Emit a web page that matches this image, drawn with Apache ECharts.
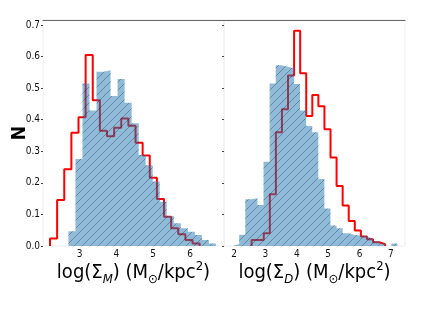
<!DOCTYPE html>
<html>
<head>
<meta charset="utf-8">
<script src="https://cdn.jsdelivr.net/npm/echarts@6/dist/echarts.min.js"></script>
<style>
  html, body { margin: 0; padding: 0; background: #fff; }
  #chart { width: 436px; height: 327px; }
</style>
</head>
<body>
<div id="chart"></div>
<script>
// histogram bins (start, bin width, heights)
var leftBlueStart = 2.70, leftBlueWidth = 0.1905;
var leftBlue = [0.047, 0.276, 0.515, 0.429, 0.552, 0.557, 0.475, 0.529, 0.454, 0.389, 0.288,
  0.256, 0.204, 0.140, 0.095, 0.072, 0.056, 0.045, 0.035, 0.019, 0.008];
var leftRedStart = 2.20, leftRedWidth = 0.1933;
var leftRed = [0.024, 0.146, 0.243, 0.359, 0.408, 0.605, 0.462, 0.365, 0.348, 0.375, 0.404,
  0.381, 0.327, 0.287, 0.216, 0.149, 0.093, 0.056, 0.037, 0.019, 0.008];
var rightBlueStart = 1.97, rightBlueWidth = 0.194;
var rightBlue = [0.006, 0.036, 0.148, 0.151, 0.130, 0.267, 0.515, 0.573, 0.568, 0.563, 0.513,
  0.429, 0.380, 0.360, 0.212, 0.119, 0.065, 0.056, 0.040, 0.035, 0.033, 0.030, 0.024, 0.015,
  0.008, 0, 0.008];
var rightRedStart = 2.56, rightRedWidth = 0.1935;
var rightRed = [0.019, 0.019, 0.040, 0.164, 0.360, 0.433, 0.540, 0.682, 0.547, 0.412, 0.478,
  0.443, 0.370, 0.280, 0.190, 0.128, 0.079, 0.049, 0.030, 0.021, 0.012, 0.006];

var leftTicks = [3, 4, 5, 6];
var rightTicks = [2, 3, 4, 5, 6, 7];
var yTicks = [0, 0.1, 0.2, 0.3, 0.4, 0.5, 0.6, 0.7];

var FONT = "'DejaVu Sans Condensed', 'DejaVu Sans', sans-serif";

// outline of a step histogram, bins drawn as [x, height]
function stepData(start, width, counts) {
  var pts = [[start, 0]];
  for (var i = 0; i < counts.length; i++) {
    pts.push([start + i * width, counts[i]]);
  }
  pts.push([start + counts.length * width, 0]);
  return pts;
}

// "//" hatch over the half transparent blue
function makeHatch() {
  var s = 8;
  var c = document.createElement("canvas");
  c.width = s;
  c.height = s;
  var ctx = c.getContext("2d");
  ctx.fillStyle = "rgba(31,119,180,0.5)";
  ctx.fillRect(0, 0, s, s);
  ctx.strokeStyle = "rgba(20,40,60,0.5)";
  ctx.lineWidth = 0.7;
  ctx.beginPath();
  ctx.moveTo(0, s); ctx.lineTo(s, 0);
  ctx.moveTo(-1, 1); ctx.lineTo(1, -1);
  ctx.moveTo(s - 1, s + 1); ctx.lineTo(s + 1, s - 1);
  ctx.stroke();
  return c;
}
var hatch = { image: makeHatch(), repeat: "repeat" };

function titleRich(sub) {
  return {
    name: "{a|log(Σ}{s|" + sub + "}{a|) (M}{o|⊙}{a|/kpc}{p|2}{a|)}",
    rich: {
      a: { fontSize: 20, lineHeight: 26, color: "#000", fontFamily: FONT, verticalAlign: "middle" },
      s: { fontSize: 13, lineHeight: 13, color: "#000", fontFamily: FONT, fontStyle: "italic", verticalAlign: "bottom" },
      o: { fontSize: 13, lineHeight: 13, color: "#000", fontFamily: FONT, verticalAlign: "bottom" },
      p: { fontSize: 13, lineHeight: 13, color: "#000", fontFamily: FONT, verticalAlign: "top" }
    }
  };
}

function bottomAxis(grid, min, max, ticks, sub) {
  var t = titleRich(sub);
  return {
    type: "value", gridIndex: grid, min: min, max: max,
    name: t.name, nameLocation: "middle", nameGap: 14, nameMoveOverlap: false,
    nameTextStyle: { rich: t.rich },
    axisLine: { show: false },
    axisTick: { show: false },
    splitLine: { show: false },
    axisLabel: { customValues: ticks, color: "#111", fontSize: 10, fontFamily: FONT, margin: 3 }
  };
}

function topAxis(grid, min, max) {
  return {
    type: "value", gridIndex: grid, min: min, max: max, position: "top",
    axisLine: { show: true, lineStyle: { color: "#666", width: 1 } },
    axisTick: { show: false }, axisLabel: { show: false }, splitLine: { show: false }
  };
}

function leftAxis(grid, showLabels) {
  return {
    type: "value", gridIndex: grid, min: 0, max: 0.716,
    name: showLabels ? "N" : "", nameLocation: "middle", nameGap: 13, nameRotate: 90,
    nameMoveOverlap: false,
    nameTextStyle: { fontSize: 19, fontWeight: "bold", color: "#000", fontFamily: FONT },
    axisLine: { show: false },
    axisTick: { show: true, customValues: yTicks, length: 2, lineStyle: { color: "#444" } },
    splitLine: { show: false },
    axisLabel: {
      show: showLabels, customValues: yTicks, color: "#111", fontSize: 10, fontFamily: FONT, margin: 3,
      formatter: function (v) { return v.toFixed(1); }
    }
  };
}

var chart = echarts.init(document.getElementById("chart"));
var option = {
  animation: false,
  backgroundColor: "#fff",
  grid: [
    { left: 43, top: 20, width: 181, height: 226, show: true, borderColor: "#eeeeee", borderWidth: 1 },
    { left: 224, top: 20, width: 181, height: 226, show: true, borderColor: "#eeeeee", borderWidth: 1 }
  ],
  xAxis: [
    bottomAxis(0, 2.01, 6.92, leftTicks, "M"),
    bottomAxis(1, 1.68, 7.45, rightTicks, "D"),
    topAxis(0, 2.01, 6.92),
    topAxis(1, 1.68, 7.45)
  ],
  yAxis: [leftAxis(0, true), leftAxis(1, false)],
  series: [
    {
      type: "line", xAxisIndex: 0, yAxisIndex: 0, step: "end", showSymbol: false, silent: true, z: 2,
      lineStyle: { color: "#ff0000", width: 2 },
      data: stepData(leftRedStart, leftRedWidth, leftRed)
    },
    {
      type: "line", xAxisIndex: 0, yAxisIndex: 0, step: "end", showSymbol: false, silent: true, z: 3,
      lineStyle: { width: 0, opacity: 0 },
      areaStyle: { color: hatch, opacity: 1 },
      data: stepData(leftBlueStart, leftBlueWidth, leftBlue)
    },
    {
      type: "line", xAxisIndex: 1, yAxisIndex: 1, step: "end", showSymbol: false, silent: true, z: 2,
      lineStyle: { color: "#ff0000", width: 2 },
      data: stepData(rightRedStart, rightRedWidth, rightRed)
    },
    {
      type: "line", xAxisIndex: 1, yAxisIndex: 1, step: "end", showSymbol: false, silent: true, z: 3,
      lineStyle: { width: 0, opacity: 0 },
      areaStyle: { color: hatch, opacity: 1 },
      data: stepData(rightBlueStart, rightBlueWidth, rightBlue)
    }
  ]
};
option && chart.setOption(option);
</script>
</body>
</html>
